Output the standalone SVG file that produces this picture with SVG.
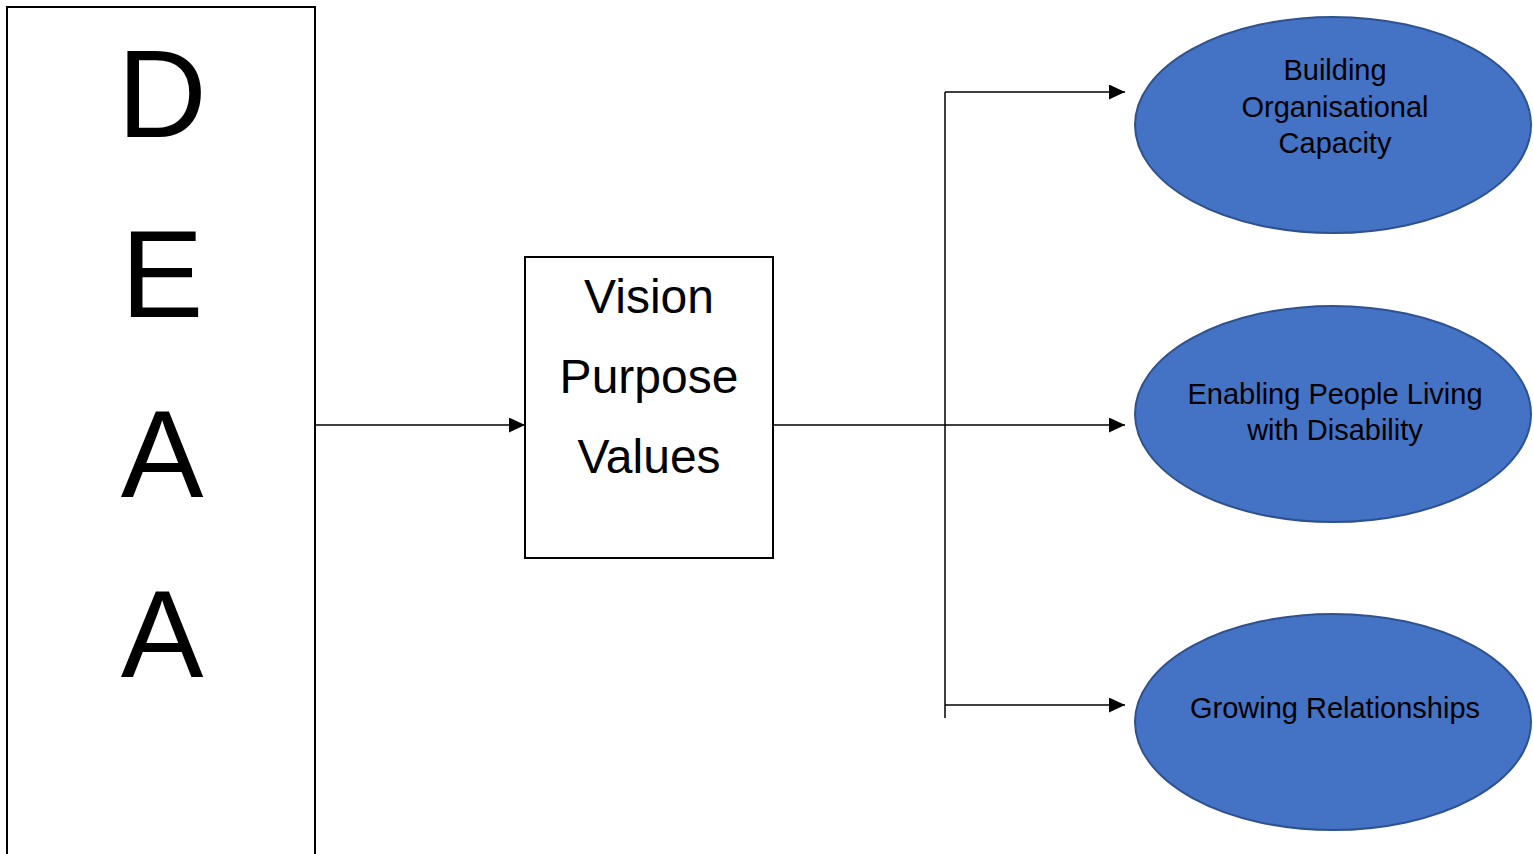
<svg xmlns="http://www.w3.org/2000/svg" width="1533" height="854" viewBox="0 0 1533 854">
<style>
.box{fill:#fff;stroke:#000;stroke-width:2}
.ell{fill:#4472C4;stroke:#2F528F;stroke-width:2}
.ln{stroke:#000;stroke-width:1.5;fill:none}
.t{font-family:"Liberation Sans",Arial,sans-serif;fill:#000;text-anchor:middle}
.big{font-size:124px}
.mid{font-size:48px}
.sm{font-size:29px}
</style>
<defs>
<marker id="ah" viewBox="0 0 16 15" refX="16" refY="7.5" markerWidth="16" markerHeight="15" markerUnits="userSpaceOnUse" orient="auto">
<path d="M0,0 L16,7.5 L0,15 z" fill="#000"/>
</marker>
</defs>
<rect width="1533" height="854" fill="#fff"/>
<g id="connectors">
<line class="ln" x1="315" y1="425" x2="525" y2="425" marker-end="url(#ah)"/>
<line class="ln" x1="773" y1="425" x2="1125" y2="425" marker-end="url(#ah)"/>
<line class="ln" x1="945" y1="92" x2="945" y2="718"/>
<line class="ln" x1="945" y1="92" x2="1125" y2="92" marker-end="url(#ah)"/>
<line class="ln" x1="945" y1="705" x2="1125" y2="705" marker-end="url(#ah)"/>
</g>
<g id="deaa">
<rect class="box" x="7" y="7" width="308" height="860"/>
<text class="t big" x="162" y="137">D</text>
<text class="t big" x="162" y="317">E</text>
<text class="t big" x="162" y="497">A</text>
<text class="t big" x="162" y="677">A</text>
</g>
<g id="vpv">
<rect class="box" x="525" y="257" width="248" height="301"/>
<text class="t mid" x="649" y="313">Vision</text>
<text class="t mid" x="649" y="393">Purpose</text>
<text class="t mid" x="649" y="473">Values</text>
</g>
<g id="building">
<ellipse class="ell" cx="1333" cy="125" rx="198" ry="108"/>
<text class="t sm" x="1335" y="80">Building</text>
<text class="t sm" x="1335" y="117">Organisational</text>
<text class="t sm" x="1335" y="153">Capacity</text>
</g>
<g id="enabling">
<ellipse class="ell" cx="1333" cy="414" rx="198" ry="108"/>
<text class="t sm" x="1335" y="404">Enabling People Living</text>
<text class="t sm" x="1335" y="440">with Disability</text>
</g>
<g id="growing">
<ellipse class="ell" cx="1333" cy="722" rx="198" ry="108"/>
<text class="t sm" x="1335" y="718">Growing Relationships</text>
</g>
</svg>
